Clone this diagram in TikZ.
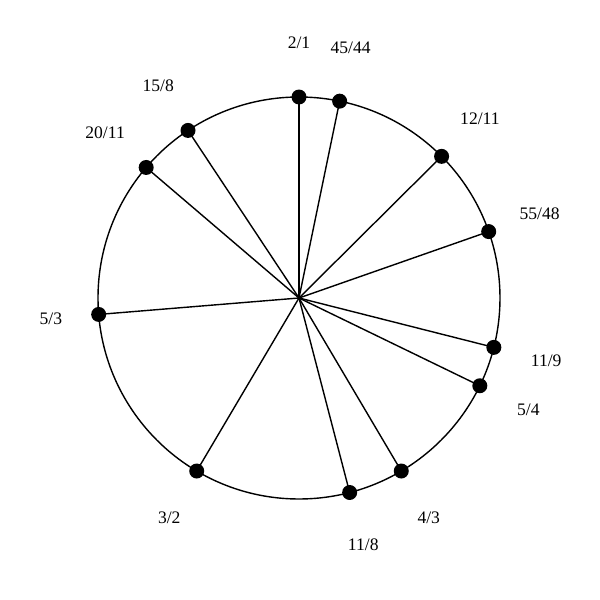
\documentclass[tikz,border=0pt]{standalone}
\usepackage{fontspec}
\setmainfont{Liberation Serif}
\begin{document}
\begin{tikzpicture}[x=0.02cm,y=0.02cm,
  tone/.style={circle,fill=black,inner sep=0pt,minimum size=0.3cm},
  ratio/.style={font=\fontsize{10}{12}\selectfont}]
\useasboundingbox (0,0) rectangle (600,600);
\begin{scope}[shift={(299,302)}]
\coordinate (c) at (0,0);
\draw[line width=0.8pt] (c) circle (201);
% dots on the circle, clockwise from 2/1
\node[tone] (t21) at (90:201) {};
\node[tone] (t4544) at (78.33:201) {};
\node[tone] (t1211) at (44.81:201) {};
\node[tone] (t5548) at (19.30:201) {};
\node[tone] (t119) at (-14.22:201) {};
\node[tone] (t54) at (-25.89:201) {};
\node[tone] (t43) at (-59.41:201) {};
\node[tone] (t118) at (-75.40:201) {};
\node[tone] (t32) at (-120.59:201) {};
\node[tone] (t53) at (-175.31:201) {};
\node[tone] (t2011) at (139.50:201) {};
\node[tone] (t158) at (123.52:201) {};
% spokes
\draw[line width=0.8pt] (c) -- (t21.center);
\draw[line width=0.8pt] (c) -- (t4544.center);
\draw[line width=0.8pt] (c) -- (t1211.center);
\draw[line width=0.8pt] (c) -- (t5548.center);
\draw[line width=0.8pt] (c) -- (t119.center);
\draw[line width=0.8pt] (c) -- (t54.center);
\draw[line width=0.8pt] (c) -- (t43.center);
\draw[line width=0.8pt] (c) -- (t118.center);
\draw[line width=0.8pt] (c) -- (t32.center);
\draw[line width=0.8pt] (c) -- (t53.center);
\draw[line width=0.8pt] (c) -- (t2011.center);
\draw[line width=0.8pt] (c) -- (t158.center);
% labels
\node[ratio] (l21) at (90:255) {2/1};
\node[ratio] (l4544) at (78.33:255) {45/44};
\node[ratio] (l1211) at (44.81:255) {12/11};
\node[ratio] (l5548) at (19.30:255) {55/48};
\node[ratio] (l119) at (-14.22:255) {11/9};
\node[ratio] (l54) at (-25.89:255) {5/4};
\node[ratio] (l43) at (-59.41:255) {4/3};
\node[ratio] (l118) at (-75.40:255) {11/8};
\node[ratio] (l32) at (-120.59:255) {3/2};
\node[ratio] (l53) at (-175.31:249) {5/3};
\node[ratio] (l2011) at (139.50:255) {20/11};
\node[ratio] (l158) at (123.52:255) {15/8};
\end{scope}
\end{tikzpicture}
\end{document}
